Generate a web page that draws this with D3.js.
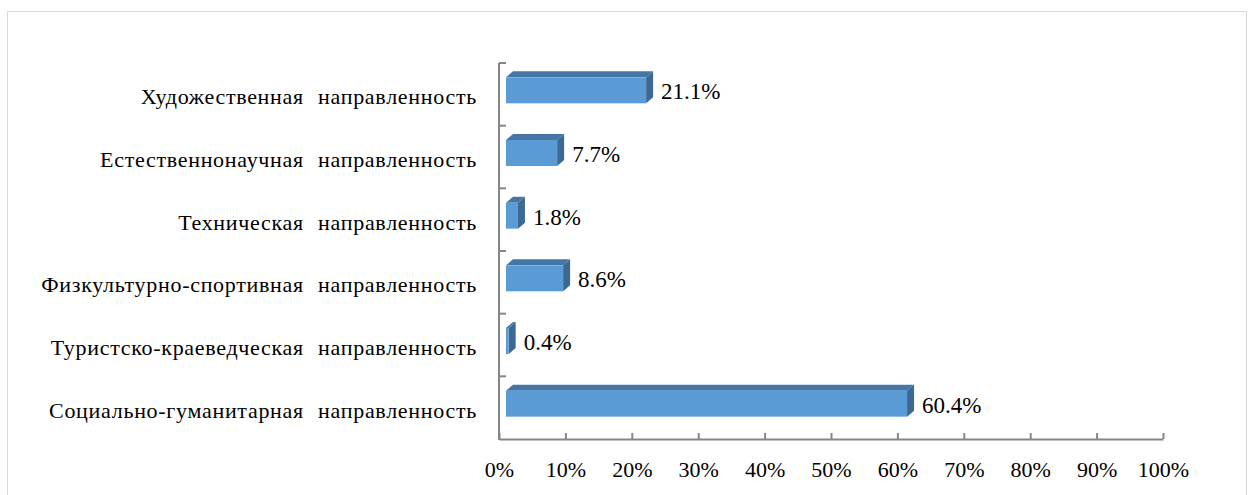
<!DOCTYPE html>
<html><head><meta charset="utf-8">
<script src="https://cdn.jsdelivr.net/npm/d3@7"></script>
<style>html,body{margin:0;padding:0;background:#fff;}svg{display:block;}</style>
</head><body>
<svg id="chart" width="1250" height="495" font-family="Liberation Serif"></svg>
<script>
const categories = [
  "Художественная направленность",
  "Естественнонаучная направленность",
  "Техническая направленность",
  "Физкультурно-спортивная направленность",
  "Туристско-краеведческая направленность",
  "Социально-гуманитарная направленность"
];
const values = [21.1, 7.7, 1.8, 8.6, 0.4, 60.4];
const valueLabels = ["21.1%", "7.7%", "1.8%", "8.6%", "0.4%", "60.4%"];
const xTicks = [0, 10, 20, 30, 40, 50, 60, 70, 80, 90, 100];

const svg = d3.select("#chart");
const FONT = "Liberation Serif";

svg.append("rect").attr("x", 7.5).attr("y", 11.5).attr("width", 1239).attr("height", 500)
  .attr("fill", "none").attr("stroke", "#d9d9d9").attr("stroke-width", 1);

const x = d3.scaleLinear().domain([0, 100]).range([499, 1163]);
const y = d3.scaleBand().domain(categories).range([63, 439]);

const dx = 7, dy = 6, off = 7, h = 26;
const bars = svg.append("g");
const labels = svg.append("g");
categories.forEach((c, i) => {
  const v = values[i];
  const cy = y(c) + y.bandwidth() / 2 - 4;
  const x0 = x(0) + off, x1 = x(v) + off;
  const y0 = cy - h / 2, y1 = cy + h / 2;
  bars.append("path").attr("d", `M${x0},${y0} L${x0 + dx},${y0 - dy} L${x1 + dx},${y0 - dy} L${x1},${y0} Z`)
    .attr("fill", "#4676a6");
  bars.append("path").attr("d", `M${x1},${y0} L${x1 + dx},${y0 - dy} L${x1 + dx},${y1 - dy} L${x1},${y1} Z`)
    .attr("fill", "#3c6894");
  bars.append("rect").attr("x", x0).attr("y", y0).attr("width", Math.max(0, x1 - x0)).attr("height", h)
    .attr("fill", "#5b9bd5");
  labels.append("text").attr("x", x(v) + 22).attr("y", y(c) + y.bandwidth() / 2 + 5)
    .attr("font-family", FONT).attr("font-size", 23)
    .attr("fill", "#000").text(valueLabels[i]);
  labels.append("text").attr("x", 477).attr("y", y(c) + y.bandwidth() / 2 + 10)
    .attr("text-anchor", "end").attr("font-family", FONT).attr("font-size", 22)
    .attr("word-spacing", 8).attr("letter-spacing", 0.7)
    .attr("fill", "#000").text(c);
});

const axisColor = "#868686";
svg.append("line").attr("x1", x(0)).attr("x2", x(0)).attr("y1", 63).attr("y2", 440)
  .attr("stroke", axisColor).attr("stroke-width", 2);
categories.map(c => y(c)).forEach(b => {
  svg.append("line").attr("x1", x(0)).attr("x2", x(0) + 7).attr("y1", b).attr("y2", b)
    .attr("stroke", axisColor).attr("stroke-width", 2);
});

const xAxis = svg.append("g").attr("transform", "translate(0,439)")
  .call(d3.axisBottom(x).tickValues(xTicks).tickFormat(d => d + "%").tickSizeInner(-6).tickSizeOuter(0).tickPadding(22));
xAxis.attr("font-family", FONT).attr("font-size", 22);
xAxis.select(".domain").attr("stroke", axisColor).attr("stroke-width", 2);
xAxis.selectAll(".tick line").attr("stroke", axisColor).attr("stroke-width", 2);
xAxis.selectAll(".tick text").attr("font-family", FONT).attr("font-size", 22).attr("fill", "#000");
</script>
</body></html>
